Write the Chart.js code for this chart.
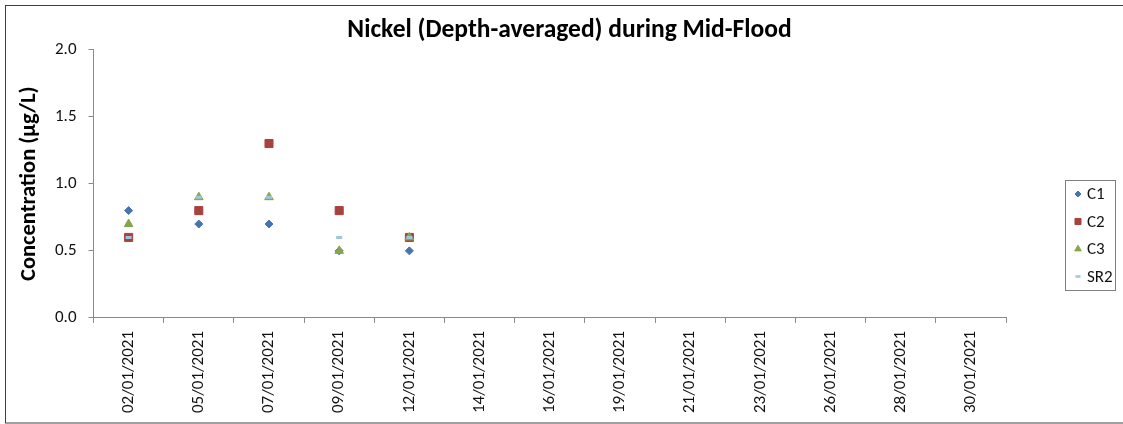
<!DOCTYPE html>
<html>
<head>
<meta charset="utf-8">
<script src="https://cdn.jsdelivr.net/npm/chart.js@4.4.1/dist/chart.umd.min.js"></script>
<style>
  html, body { margin: 0; padding: 0; background: #fff; }
  canvas { display: block; }
</style>
</head>
<body>
<canvas id="chart" width="1123" height="424"></canvas>
<script>
// Chart data
const dates = ["02/01/2021", "05/01/2021", "07/01/2021", "09/01/2021", "12/01/2021",
  "14/01/2021", "16/01/2021", "19/01/2021", "21/01/2021", "23/01/2021",
  "26/01/2021", "28/01/2021", "30/01/2021"];
const c1 = [0.8, 0.7, 0.7, 0.5, 0.5];
const c2 = [0.6, 0.8, 1.3, 0.8, 0.6];
const c3 = [0.7, 0.9, 0.9, 0.5, 0.6];
const sr2 = [0.6, 0.9, 0.9, 0.6, 0.6];
const yTicks = [0, 0.5, 1.0, 1.5, 2.0];

const FONT = "Carlito, Lato, sans-serif";

// Series styles
const series = [
  { label: "C1", data: c1, color: "#4674b2", style: "rectRot", radius: 4, order: 4 },
  { label: "C2", data: c2, color: "#a8423f", style: "rect", radius: 5.7, order: 3 },
  { label: "C3", data: c3, color: "#87a54b", style: "triangle", radius: 5, order: 2 },
  { label: "SR2", data: sr2, color: "#9cc7dc", style: "line", radius: 3, order: 1 },
];

// Outer frame + boxed legend at right
const framePlugin = {
  id: "frame",
  afterDraw(chart) {
    const ctx = chart.ctx;
    ctx.save();
    ctx.strokeStyle = "#404040";
    ctx.lineWidth = 1;
    ctx.strokeRect(5.5, 5.5, 1130, 417.5);

    // legend box
    ctx.strokeStyle = "#7f7f7f";
    ctx.strokeRect(1065.5, 180.5, 50, 110);
    ctx.font = "17px " + FONT;
    ctx.textBaseline = "middle";
    series.forEach((s, i) => {
      const y = 194 + i * 27.5;
      ctx.fillStyle = s.color;
      ctx.strokeStyle = s.color;
      ctx.lineWidth = s.style === "line" ? 2.5 : 1;
      Chart.helpers.drawPoint(ctx, {
        pointStyle: s.style,
        radius: s.style === "line" ? 2.5 : s.radius * 0.75,
        rotation: 0,
        borderWidth: ctx.lineWidth,
      }, 1078, y);
      ctx.fillStyle = "#111";
      ctx.fillText(s.label, 1087, y + 1);
    });
    ctx.restore();
  },
};

new Chart(document.getElementById("chart"), {
  type: "line",
  data: {
    labels: dates,
    datasets: series.map((s) => ({
      label: s.label,
      data: s.data,
      showLine: false,
      pointStyle: s.style,
      pointRadius: s.radius,
      pointHoverRadius: s.radius,
      pointBackgroundColor: s.color,
      pointBorderColor: s.color,
      pointBorderWidth: s.style === "line" ? 3 : 1,
      order: s.order,
    })),
  },
  options: {
    responsive: false,
    animation: false,
    layout: { padding: { left: 16, right: 0, top: 0, bottom: 3 } },
    plugins: {
      legend: { display: false },
      tooltip: { enabled: false },
      title: {
        display: true,
        text: "Nickel (Depth-averaged) during Mid-Flood",
        color: "#000",
        font: { family: FONT, size: 25.5, weight: "bold" },
        padding: { top: 15, bottom: 4 },
      },
    },
    scales: {
      x: {
        offset: true,
        grid: { offset: true, drawOnChartArea: false, tickLength: 5, color: "#8a8a8a" },
        border: { color: "#8a8a8a" },
        ticks: {
          minRotation: 90,
          maxRotation: 90,
          autoSkip: false,
          padding: 8,
          color: "#111",
          font: { family: FONT, size: 17 },
        },
      },
      y: {
        min: 0,
        max: 2,
        afterBuildTicks: (axis) => { axis.ticks = yTicks.map((v) => ({ value: v })); },
        grid: { drawOnChartArea: false, tickLength: 5, color: "#8a8a8a" },
        border: { color: "#8a8a8a" },
        ticks: {
          padding: 12,
          color: "#111",
          font: { family: FONT, size: 17 },
          callback: (v) => Number(v).toFixed(1),
        },
        title: {
          display: true,
          text: "Concentration (µg/L)",
          color: "#000",
          font: { family: FONT, size: 22.5, weight: "bold" },
          padding: { top: 0, bottom: 0 },
        },
      },
      // empty right-hand strip that leaves room for the legend
      legendSpace: {
        type: "linear",
        position: "right",
        grid: { display: false },
        border: { display: false },
        ticks: { display: false },
        afterFit: (scale) => { scale.width = 117; },
      },
    },
  },
  plugins: [framePlugin],
});
</script>
</body>
</html>
